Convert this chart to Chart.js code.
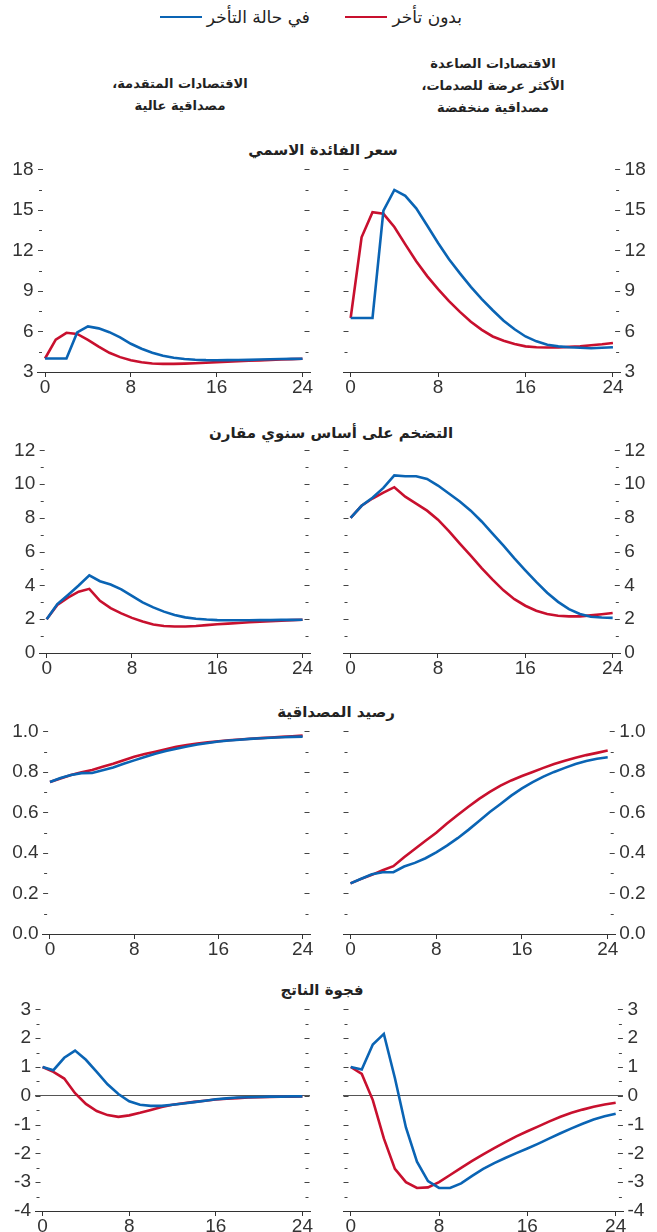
<!DOCTYPE html>
<html lang="ar">
<head>
<meta charset="utf-8">
<script src="https://cdn.jsdelivr.net/npm/chart.js@4.4.1/dist/chart.umd.min.js"></script>
<style>
    html, body { margin: 0; padding: 0; background: #fff; overflow: hidden; }
    body { width: 657px; height: 1232px; position: relative; font-family: 'DejaVu Sans', sans-serif; color: #222; }
    canvas { position: absolute; }
    .legend { position: absolute; top: 6px; height: 22px; display: flex; direction: rtl; align-items: center; gap: 5px; font-size: 17px; }
    .legend i { display: block; width: 42px; height: 2.5px; }
    .head { position: absolute; width: 300px; text-align: center; direction: rtl; font-weight: bold; font-size: 13px; line-height: 22px; }
    .title { position: absolute; width: 400px; text-align: center; direction: rtl; font-weight: bold; font-size: 15px; line-height: 20px; }
</style>
</head>
<body>

<div class="legend" style="right:195px"><span>بدون تأخر</span><i style="background:#c8102e"></i></div>
<div class="legend" style="right:347px"><span>في حالة التأخر</span><i style="background:#0a64b4"></i></div>

<div class="head" style="left:343px; top:53px">الاقتصادات الصاعدة<br>الأكثر عرضة للصدمات،<br>مصداقية منخفضة</div>
<div class="head" style="left:30px; top:73px">الاقتصادات المتقدمة،<br>مصداقية عالية</div>

<div class="title" style="left:123px; top:140px">سعر الفائدة الاسمي</div>
<div class="title" style="left:131px; top:423px">التضخم على أساس سنوي مقارن</div>
<div class="title" style="left:136px; top:702px">رصيد المصداقية</div>
<div class="title" style="left:122px; top:980px">فجوة الناتج</div>

<script>
// Data (quarters after the shock)
const periods = [0, 1, 2, 3, 4, 5, 6, 7, 8, 9, 10, 11, 12, 13, 14, 15, 16, 17, 18, 19, 20, 21, 22, 23, 24];
const xTicks = [0, 8, 16, 24];

// Nominal interest rate
const rateTicks = [3, 6, 9, 12, 15, 18];
const rateAdvDelay = [4.0, 4.0, 4.0, 5.93, 6.37, 6.23, 5.95, 5.57, 5.09, 4.72, 4.43, 4.2, 4.05, 3.96, 3.91, 3.88, 3.87, 3.88, 3.89, 3.9, 3.92, 3.94, 3.96, 3.97, 3.98];
const rateAdvNoDelay = [4.0, 5.4, 5.9, 5.82, 5.38, 4.88, 4.42, 4.1, 3.87, 3.72, 3.63, 3.6, 3.6, 3.62, 3.65, 3.69, 3.73, 3.76, 3.8, 3.83, 3.86, 3.89, 3.92, 3.95, 3.98];
const rateEmDelay = [7.0, 7.0, 7.0, 14.95, 16.48, 16.04, 15.12, 13.85, 12.55, 11.35, 10.3, 9.3, 8.4, 7.57, 6.8, 6.16, 5.63, 5.27, 5.02, 4.9, 4.83, 4.79, 4.76, 4.79, 4.83];
const rateEmNoDelay = [7.0, 12.97, 14.83, 14.71, 13.74, 12.45, 11.2, 10.1, 9.14, 8.25, 7.45, 6.72, 6.12, 5.63, 5.32, 5.07, 4.9, 4.83, 4.81, 4.81, 4.86, 4.9, 4.98, 5.05, 5.15];

// Inflation, year over year
const inflTicks = [0, 2, 4, 6, 8, 10, 12];
const inflAdvDelay = [2.0, 2.9, 3.44, 4.0, 4.6, 4.25, 4.06, 3.77, 3.38, 3.0, 2.7, 2.45, 2.25, 2.11, 2.03, 1.98, 1.95, 1.94, 1.94, 1.94, 1.95, 1.95, 1.96, 1.96, 1.97];
const inflAdvNoDelay = [2.0, 2.85, 3.28, 3.63, 3.8, 3.09, 2.66, 2.35, 2.08, 1.86, 1.69, 1.6, 1.57, 1.57, 1.6, 1.65, 1.7, 1.74, 1.78, 1.82, 1.86, 1.89, 1.92, 1.95, 1.97];
const inflEmDelay = [8.0, 8.72, 9.2, 9.78, 10.52, 10.47, 10.47, 10.31, 9.92, 9.45, 8.97, 8.43, 7.79, 7.07, 6.36, 5.61, 4.9, 4.21, 3.57, 3.03, 2.6, 2.31, 2.15, 2.1, 2.08];
const inflEmNoDelay = [8.0, 8.72, 9.15, 9.5, 9.82, 9.26, 8.85, 8.43, 7.9, 7.22, 6.48, 5.77, 5.03, 4.35, 3.71, 3.19, 2.8, 2.5, 2.31, 2.21, 2.17, 2.17, 2.23, 2.3, 2.37];

// Credibility stock
const credTicks = [0.0, 0.2, 0.4, 0.6, 0.8, 1.0];
const credAdvDelay = [0.75, 0.77, 0.785, 0.794, 0.795, 0.808, 0.822, 0.84, 0.857, 0.874, 0.89, 0.903, 0.914, 0.925, 0.935, 0.943, 0.95, 0.955, 0.959, 0.963, 0.966, 0.969, 0.971, 0.973, 0.974];
const credAdvNoDelay = [0.75, 0.768, 0.785, 0.798, 0.81, 0.825, 0.84, 0.858, 0.875, 0.888, 0.9, 0.912, 0.924, 0.933, 0.94, 0.946, 0.951, 0.956, 0.96, 0.964, 0.967, 0.97, 0.973, 0.976, 0.979];
const credEmDelay = [0.25, 0.273, 0.295, 0.305, 0.305, 0.333, 0.351, 0.374, 0.403, 0.436, 0.473, 0.514, 0.558, 0.602, 0.642, 0.683, 0.719, 0.75, 0.777, 0.8, 0.82, 0.839, 0.854, 0.865, 0.872];
const credEmNoDelay = [0.25, 0.272, 0.292, 0.315, 0.335, 0.379, 0.42, 0.46, 0.5, 0.545, 0.587, 0.628, 0.667, 0.701, 0.732, 0.758, 0.78, 0.8, 0.82, 0.839, 0.855, 0.87, 0.883, 0.894, 0.906];

// Output gap
const gapTicks = [-4, -3, -2, -1, 0, 1, 2, 3];
const gapAdvDelay = [1.0, 0.89, 1.32, 1.57, 1.25, 0.83, 0.4, 0.06, -0.19, -0.31, -0.35, -0.35, -0.31, -0.27, -0.22, -0.17, -0.12, -0.09, -0.06, -0.05, -0.04, -0.03, -0.03, -0.02, -0.02];
const gapAdvNoDelay = [1.0, 0.83, 0.6, 0.09, -0.28, -0.53, -0.67, -0.73, -0.68, -0.59, -0.49, -0.39, -0.31, -0.26, -0.21, -0.17, -0.13, -0.1, -0.08, -0.06, -0.05, -0.04, -0.03, -0.03, -0.02];
const gapEmDelay = [1.0, 0.91, 1.78, 2.15, 0.62, -1.1, -2.29, -2.96, -3.2, -3.2, -3.04, -2.78, -2.54, -2.34, -2.16, -1.99, -1.83, -1.66, -1.48, -1.3, -1.13, -0.97, -0.82, -0.71, -0.62];
const gapEmNoDelay = [1.0, 0.76, -0.15, -1.48, -2.54, -3.0, -3.2, -3.18, -3.0, -2.75, -2.5, -2.26, -2.03, -1.82, -1.61, -1.41, -1.23, -1.06, -0.89, -0.73, -0.59, -0.48, -0.38, -0.3, -0.24];

const BLUE = '#0a64b4';
const RED = '#c8102e';
const INK = '#333';
const TICK_FONT = { family: "'Liberation Sans Narrow', 'Arial Narrow', 'Liberation Sans', sans-serif", size: 19 };

// short dashes on both inner edges, at every tick and half tick
const edgeDashes = {
    id: 'edgeDashes',
    afterDraw(chart) {
        const { ctx, chartArea: a, scales: { y } } = chart;
        const vals = y.ticks.map(t => t.value);
        ctx.save();
        ctx.strokeStyle = '#444';
        ctx.lineWidth = 1.2;
        const dash = (v, s, e) => {
            const py = Math.round(y.getPixelForValue(v)) + 0.5;
            ctx.beginPath();
            ctx.moveTo(a.left + s, py); ctx.lineTo(a.left + e, py);
            ctx.moveTo(a.right - e, py); ctx.lineTo(a.right - s, py);
            ctx.stroke();
        };
        vals.forEach((v, i) => {
            if (i > 0) dash((vals[i - 1] + v) / 2, 1.5, 4.5);
            if (v !== y.min) dash(v, 0.5, 5.5);
        });
        ctx.restore();
    }
};

function makePanel(p) {
    const canvas = document.createElement('canvas');
    const left = p.side === 'left' ? 0 : 338;
    const width = p.side === 'left' ? 318 : 319;
    const height = 12 + p.h + 28;
    canvas.width = width;
    canvas.height = height;
    canvas.style.left = left + 'px';
    canvas.style.top = (p.top - 12) + 'px';
    document.body.appendChild(canvas);

    const ticks = p.ticks;
    new Chart(canvas.getContext('2d'), {
        type: 'line',
        data: {
            datasets: [
                { data: periods.map((t, i) => ({ x: t, y: p.delay[i] })), borderColor: BLUE },
                { data: periods.map((t, i) => ({ x: t, y: p.noDelay[i] })), borderColor: RED }
            ]
        },
        options: {
            responsive: false,
            animation: false,
            devicePixelRatio: 1,
            layout: { padding: p.side === 'left' ? { top: 12, right: 8, left: 0, bottom: 0 } : { top: 12, left: 5, right: 0, bottom: 0 } },
            elements: {
                point: { radius: 0 },
                line: { borderWidth: 2.6, tension: 0, borderJoinStyle: 'miter' }
            },
            plugins: { legend: { display: false }, tooltip: { enabled: false } },
            scales: {
                x: {
                    type: 'linear',
                    min: -0.7,
                    max: 24.7,
                    afterBuildTicks: s => { s.ticks = xTicks.map(v => ({ value: v })); },
                    afterFit: s => { s.height = 28; },
                    grid: { drawOnChartArea: false, drawTicks: true, tickLength: 5, color: INK, lineWidth: 1 },
                    border: { display: true, color: INK, width: 1 },
                    ticks: { font: TICK_FONT, color: INK, padding: -1, maxRotation: 0, autoSkip: false }
                },
                y: {
                    position: p.side,
                    min: ticks[0],
                    max: ticks[ticks.length - 1],
                    afterBuildTicks: s => { s.ticks = ticks.map(v => ({ value: v })); },
                    afterFit: s => { s.width = p.axisW; },
                    grid: {
                        drawTicks: false,
                        lineWidth: 1,
                        color: c => (p.zero && c.tick && c.tick.value === 0) ? '#555' : 'rgba(0,0,0,0)'
                    },
                    border: { display: false },
                    ticks: {
                        font: TICK_FONT,
                        color: INK,
                        padding: 4,
                        callback: v => p.decimals ? v.toFixed(1) : String(v)
                    }
                }
            }
        },
        plugins: [edgeDashes]
    });
}

[
    { side: 'left', top: 166, h: 206, ticks: rateTicks, delay: rateAdvDelay, noDelay: rateAdvNoDelay, axisW: 37.5 },
    { side: 'right', top: 166, h: 206, ticks: rateTicks, delay: rateEmDelay, noDelay: rateEmNoDelay, axisW: 36.4 },
    { side: 'left', top: 447, h: 206, ticks: inflTicks, delay: inflAdvDelay, noDelay: inflAdvNoDelay, axisW: 39.2 },
    { side: 'right', top: 447, h: 206, ticks: inflTicks, delay: inflEmDelay, noDelay: inflEmNoDelay, axisW: 36.7 },
    { side: 'left', top: 728, h: 206, ticks: credTicks, delay: credAdvDelay, noDelay: credAdvNoDelay, axisW: 42.6, decimals: true },
    { side: 'right', top: 728, h: 206, ticks: credTicks, delay: credEmDelay, noDelay: credEmNoDelay, axisW: 41.8, decimals: true },
    { side: 'left', top: 1006, h: 205, ticks: gapTicks, delay: gapAdvDelay, noDelay: gapAdvNoDelay, axisW: 35, zero: true },
    { side: 'right', top: 1006, h: 205, ticks: gapTicks, delay: gapEmDelay, noDelay: gapEmNoDelay, axisW: 33.6, zero: true }
].forEach(makePanel);
</script>
</body>
</html>
